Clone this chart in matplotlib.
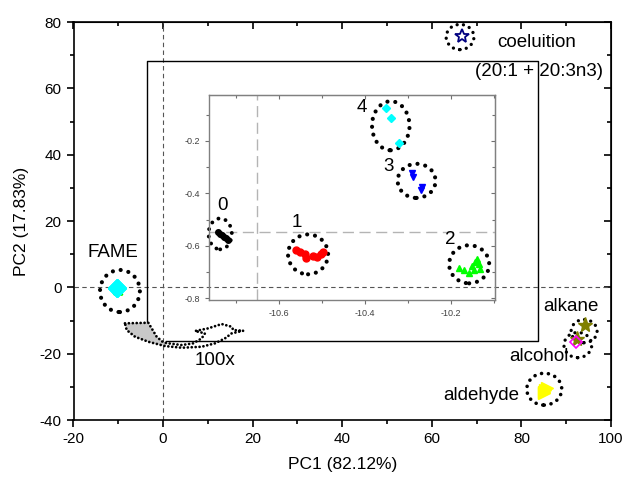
import matplotlib
matplotlib.use("Agg")
import matplotlib.pyplot as plt
from matplotlib.patches import Ellipse, Polygon
from matplotlib.ticker import MultipleLocator

plt.rcParams['font.family'] = ['Liberation Sans', 'DejaVu Sans']
plt.rcParams['axes.unicode_minus'] = False

# ---- data: FAME sub-groups (zoomed view) ----
g0_x = [-10.742, -10.737, -10.732, -10.727, -10.722, -10.717]
g0_y = [-0.548, -0.555, -0.560, -0.566, -0.571, -0.577]
g1_x = [-10.560, -10.551, -10.539, -10.537, -10.521, -10.511, -10.502, -10.497]
g1_y = [-0.615, -0.623, -0.630, -0.646, -0.638, -0.642, -0.630, -0.623]
g2_x = [-10.182, -10.170, -10.159, -10.152, -10.145, -10.140, -10.136, -10.133, -10.147]
g2_y = [-0.684, -0.691, -0.703, -0.676, -0.661, -0.650, -0.669, -0.688, -0.691]
g3_x = [-10.291, -10.289, -10.268, -10.270]
g3_y = [-0.322, -0.337, -0.375, -0.387]
g4_x = [-10.352, -10.340, -10.320]
g4_y = [-0.073, -0.113, -0.209]

# other compound classes
coel_x = [66.7]
coel_y = [75.8]
alkane_x = [94.2, 92.5]
alkane_y = [-11.4, -15.7]
alcohol_x = [92.2]
alcohol_y = [-16.4]
aldehyde_x = [85.0, 85.6, 85.3, 85.1]
aldehyde_y = [-31.5, -30.3, -30.9, -32.0]

group_labels = ['0', '1', '2', '3', '4']
group_styles = [('o', 'black', 4), ('o', 'red', 5), ('^', '#00ff00', 5),
                ('v', 'blue', 5), ('D', 'cyan', 4)]
main_sizes = [5, 6, 6, 6, 9]
groups = [(g0_x, g0_y), (g1_x, g1_y), (g2_x, g2_y), (g3_x, g3_y), (g4_x, g4_y)]

fig = plt.figure(figsize=(6.25, 4.8), dpi=100)
ax = fig.add_axes([0.1176, 0.125, 0.8600, 0.829])
ax.set_facecolor('none')


def ring(a, cx, cy, w, h, lw=3.0):
    e = Ellipse((cx, cy), w, h, fill=False, edgecolor='black', lw=lw,
                linestyle=(0, (0.01, 1.9)), clip_on=False, zorder=2)
    e.set_capstyle('round')
    a.add_patch(e)


# reference lines
ax.axhline(0, color='#555555', lw=0.8, ls=(0, (4, 3)), zorder=1)
ax.axvline(0, color='#555555', lw=0.8, ls=(0, (4, 3)), zorder=1)

# main scatter
for (gx, gy), (m, c, s), ms in zip(groups, group_styles, main_sizes):
    ax.plot(gx, gy, ls='none', marker=m, color=c, ms=ms, zorder=3)
ax.plot(coel_x, coel_y, ls='none', marker='*', ms=10, mfc='none', mec='navy', mew=1.3, zorder=3)
ax.plot(alkane_x, alkane_y, ls='none', marker='*', ms=11, color='#808000', zorder=3)
ax.plot(alcohol_x, alcohol_y, ls='none', marker='D', ms=6, mfc='none', mec='magenta', mew=1.2, zorder=3)
ax.plot(aldehyde_x, aldehyde_y, ls='none', marker='>', ms=9, color='yellow', zorder=3)

# rings
ring(ax, -9.63, -1.1, 8.9, 12.7)
ring(ax, 66.3, 75.5, 6.2, 7.6, lw=2.4)
ring(ax, 94.0, -13.2, 5.8, 7.0, lw=2.4)
ring(ax, 92.6, -17.4, 6.2, 7.6, lw=2.4)
ring(ax, 85.1, -30.7, 7.8, 9.6, lw=2.6)

# labels
fs = 13.5
ax.text(-11.3, 10.5, 'FAME', ha='center', va='center', fontsize=fs)
ax.text(83.3, 73.9, 'coeluition', ha='center', va='center', fontsize=fs)
ax.text(83.9, 65.0, '(20:1 + 20:3n3)', ha='center', va='center', fontsize=fs)
ax.text(91.0, -5.8, 'alkane', ha='center', va='center', fontsize=fs)
ax.text(83.9, -20.9, 'alcohol', ha='center', va='center', fontsize=fs)
ax.text(71.0, -32.5, 'aldehyde', ha='center', va='center', fontsize=fs)
ax.text(11.7, -22.2, '100x', ha='center', va='center', fontsize=fs)

# callout frame
ax.plot([-3.6, -3.6, 83.7, 83.7, 0.7], [-10.7, 68.2, 68.2, -16.2, -16.2],
        color='black', lw=1.0, zorder=2, clip_on=False)

arrow_pts = [(-8.51, -10.85), (-3.30, -10.67), (-2.55, -12.36), (-1.43, -14.89),
             (0.04, -16.58), (1.16, -16.88), (4.15, -17.40), (6.74, -16.88),
             (8.62, -15.38), (9.35, -13.87), (7.12, -13.17), (10.09, -12.36),
             (13.08, -11.06), (15.32, -11.88), (15.67, -12.87), (17.91, -13.08),
             (15.32, -13.87), (13.82, -15.38), (11.59, -16.88), (8.62, -17.91),
             (4.15, -18.21), (0.42, -17.70), (-3.30, -16.40), (-6.27, -14.89),
             (-8.13, -12.87)]
gray_idx = [0, 1, 2, 3, 4, 5, 21, 22, 23, 24]
ax.add_patch(Polygon([arrow_pts[i] for i in gray_idx], closed=True, facecolor='#c8c8c8',
                     edgecolor='none', zorder=2))
arr = Polygon(arrow_pts, closed=True, fill=False, edgecolor='black', lw=2.0,
              linestyle=(0, (0.01, 1.4)), zorder=2)
arr.set_capstyle('round')
ax.add_patch(arr)

ax.set_xlim(-20, 100)
ax.set_ylim(-40, 80)
ax.xaxis.set_major_locator(MultipleLocator(20))
ax.xaxis.set_minor_locator(MultipleLocator(10))
ax.yaxis.set_major_locator(MultipleLocator(20))
ax.yaxis.set_minor_locator(MultipleLocator(10))
ax.tick_params(which='both', direction='out', labelsize=11, width=1.2)
ax.tick_params(which='major', length=5)
ax.tick_params(which='minor', length=3)
for s in ax.spines.values():
    s.set_linewidth(1.2)
ax.set_xlabel('PC1 (82.12%)', fontsize=12.5, labelpad=8)
ax.set_ylabel('PC2 (17.83%)', fontsize=12.5, labelpad=8)

secx = ax.secondary_xaxis('top')
secx.xaxis.set_major_locator(MultipleLocator(20))
secx.xaxis.set_minor_locator(MultipleLocator(10))
secx.tick_params(which='both', direction='in', labeltop=False, width=1.2)
secx.tick_params(which='major', length=5)
secx.tick_params(which='minor', length=3)
secy = ax.secondary_yaxis('right')
secy.yaxis.set_major_locator(MultipleLocator(20))
secy.yaxis.set_minor_locator(MultipleLocator(10))
secy.tick_params(which='both', direction='in', labelright=False, width=1.2)
secy.tick_params(which='major', length=5)
secy.tick_params(which='minor', length=3)

# ---- inset ----
ins = fig.add_axes([0.3344, 0.375, 0.4576, 0.427])
ins.set_facecolor('none')
ins.axvline(-10.65, color='#b4b4b4', lw=1.0, ls=(0, (8, 4)), zorder=1)
ins.axhline(-0.548, color='#b4b4b4', lw=1.0, ls=(0, (8, 4)), zorder=1)
for (gx, gy), (m, c, s) in zip(groups, group_styles):
    ins.plot(gx, gy, ls='none', marker=m, color=c, ms=s, zorder=3)

ring(ins, -10.736, -0.554, 0.054, 0.118, lw=2.8)
ring(ins, -10.532, -0.632, 0.093, 0.152)
ring(ins, -10.158, -0.670, 0.093, 0.145)
ring(ins, -10.280, -0.352, 0.088, 0.130)
ring(ins, -10.340, -0.142, 0.087, 0.187)

label_pos = [(-10.730, -0.446), (-10.559, -0.512), (-10.201, -0.577),
             (-10.346, -0.298), (-10.408, -0.073)]
for lab, (lx, ly) in zip(group_labels, label_pos):
    ins.text(lx, ly, lab, ha='center', va='center', fontsize=13.5)

ins.set_xlim(-10.762, -10.098)
ins.set_ylim(-0.806, -0.025)
ins.xaxis.set_major_locator(MultipleLocator(0.2))
ins.xaxis.set_minor_locator(MultipleLocator(0.1))
ins.yaxis.set_major_locator(MultipleLocator(0.2))
ins.yaxis.set_minor_locator(MultipleLocator(0.1))
ins.tick_params(which='both', direction='out', labelsize=6.5, colors='#707070',
                labelcolor='#404040', width=0.8)
ins.tick_params(which='major', length=3)
ins.tick_params(which='minor', length=2)
for s in ins.spines.values():
    s.set_color('#808080')
    s.set_linewidth(1.0)
isx = ins.secondary_xaxis('top')
isx.xaxis.set_major_locator(MultipleLocator(0.2))
isx.xaxis.set_minor_locator(MultipleLocator(0.1))
isx.tick_params(which='both', direction='in', labeltop=False, colors='#707070', width=0.8)
isx.tick_params(which='major', length=3)
isx.tick_params(which='minor', length=2)
isx.spines['top'].set_color('#808080')
isy = ins.secondary_yaxis('right')
isy.yaxis.set_major_locator(MultipleLocator(0.2))
isy.yaxis.set_minor_locator(MultipleLocator(0.1))
isy.tick_params(which='both', direction='in', labelright=False, colors='#707070', width=0.8)
isy.tick_params(which='major', length=3)
isy.tick_params(which='minor', length=2)
isy.spines['right'].set_color('#808080')

fig.savefig('out.png', dpi=100)
